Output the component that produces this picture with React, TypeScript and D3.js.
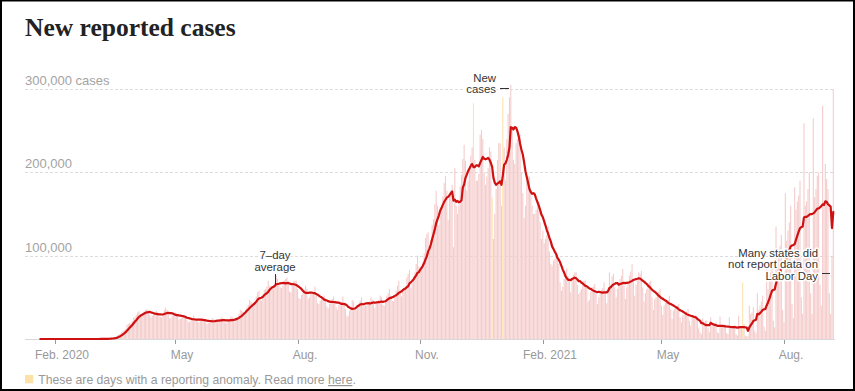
import React from 'react';
import * as d3 from 'd3';

// Daily reported cases, in thousands, one row per week (Mon..Sun); first row starts Tue 2020-01-21
const startDate = '2020-01-21';
const dailyCases: number[] = [
  0, 0, 0, 0, 0, 0,
  0, 0, 0, 0, 0, 0, 0,
  0, 0, 0, 0, 0, 0, 0,
  0, 0, 0, 0, 0, 0, 0,
  0, 0, 0, 0, 0, 0, 0,
  0, 0, 0.01, 0.01, 0.01, 0.01, 0.02,
  0.02, 0.03, 0.03, 0.06, 0.1, 0.1, 0.12,
  0.2, 0.3, 0.4, 0.5, 0.7, 0.9, 1.1,
  1.5, 1.9, 2.7, 4.5, 5.6, 6.5, 8.0,
  9.9, 10.6, 12.0, 17.0, 18.2, 19.4, 18.8,
  21.3, 25.3, 26.5, 29.0, 32.0, 33.3, 26.0,
  30, 31, 33, 35, 36, 34, 29,
  26, 28, 29, 31, 34, 32, 27,
  27, 26, 29, 35, 38, 35, 30,
  25, 25, 28, 30, 32, 31, 29,
  23, 24, 25, 28, 29, 27, 23,
  20, 21, 22, 25, 28, 25, 22,
  21, 20, 22, 24, 26, 24, 20,
  18, 19, 20, 23, 25, 24, 21,
  20, 21, 21, 24, 26, 25, 21,
  19, 20, 22, 24, 27, 26, 23,
  21, 24, 26, 30, 35, 34, 33,
  32, 35, 38, 41, 47, 45, 43,
  42, 45, 51, 56, 58, 49, 46,
  50, 59, 60, 63, 70, 64, 58,
  60, 64, 68, 76, 72, 66, 62,
  61, 64, 70, 72, 74, 68, 57,
  56, 64, 69, 70, 70, 60, 49,
  48, 53, 55, 59, 64, 60, 48,
  50, 54, 54, 56, 63, 52, 43,
  42, 46, 48, 48, 52, 48, 39,
  37, 42, 46, 48, 51, 46, 38,
  35, 41, 40, 44, 51, 44, 36,
  27, 28, 34, 37, 47, 45, 38,
  35, 39, 40, 46, 50, 44, 39,
  41, 40, 41, 45, 50, 47, 44,
  37, 43, 42, 47, 52, 50, 41,
  40, 45, 52, 55, 60, 52, 46,
  45, 52, 58, 64, 70, 59, 51,
  57, 61, 63, 74, 78, 83, 61,
  67, 75, 80, 90, 100, 87, 82,
  84, 92, 103, 121, 126, 128, 105,
  119, 137, 144, 162, 178, 160, 137,
  158, 161, 171, 187, 196, 178, 143,
  172, 178, 185, 110, 205, 160, 150,
  160, 183, 197, 216, 233, 214, 178,
  190, 205, 220, 230, 283, 215, 190,
  190, 198, 245, 251, 240, 200, 185,
  195, 205, 230, 225, 170, 120, 150,
  180, 215, 235, 235, 160, 290, 230,
  190, 240, 270, 290, 305, 250, 215,
  210, 235, 240, 245, 245, 200, 175,
  145, 160, 190, 195, 195, 175, 160,
  150, 150, 155, 165, 165, 140, 120,
  130, 115, 120, 125, 135, 105, 90,
  88, 94, 96, 106, 102, 90, 68,
  58, 63, 72, 75, 85, 75, 69,
  56, 73, 77, 80, 80, 65, 54,
  57, 60, 70, 70, 70, 62, 45,
  47, 57, 62, 63, 66, 57, 42,
  50, 54, 59, 61, 68, 57, 43,
  60, 80, 65, 75, 78, 62, 50,
  60, 66, 72, 76, 84, 64, 48,
  62, 67, 76, 81, 90, 72, 52,
  65, 70, 80, 78, 82, 62, 45,
  55, 60, 66, 68, 70, 50, 35,
  48, 50, 54, 57, 60, 40, 29,
  40, 44, 46, 47, 52, 35, 24,
  34, 36, 39, 40, 42, 26, 20,
  28, 29, 31, 33, 36, 22, 16,
  25, 25, 28, 28, 25, 13, 8,
  6, 25, 20, 22, 22, 13, 8,
  26, 16, 16, 17, 20, 8, 7,
  27, 16, 15, 15, 18, 7, 6,
  26, 14, 14, 15, 17, 6, 4,
  28, 15, 15, 68, 18, 4, 3,
  4, 40, 30, 32, 38, 10, 7,
  55, 35, 40, 45, 52, 15, 10,
  85, 60, 70, 80, 85, 22, 14,
  135, 88, 100, 112, 125, 35, 20,
  175, 118, 130, 140, 160, 42, 25,
  182, 155, 165, 172, 190, 50, 30,
  259, 160, 165, 180, 200, 55, 30,
  265, 170, 180, 196, 200, 65, 40,
  280, 165, 210, 192, 180, 55, 30,
  100, 300,
];

const anomalyDates = ['2020-12-11', '2020-12-25', '2021-01-02', '2021-07-01'];

const yTickValues = [100000, 200000, 300000];
const yTickLabels = ['100,000', '200,000', '300,000 cases'];

const xTickDates = ['2020-02-01', '2020-05-01', '2020-08-01', '2020-11-01', '2021-02-01', '2021-05-01', '2021-08-01'];
const xTickLabels = ['Feb. 2020', 'May', 'Aug.', 'Nov.', 'Feb. 2021', 'May', 'Aug.'];

const SANS = '"Liberation Sans", Arial, sans-serif';
const SERIF = '"Liberation Serif", "Times New Roman", serif';

export default function App() {
  const W = 855;
  const H = 391;
  const parse = d3.utcParse('%Y-%m-%d');
  const fmt = d3.utcFormat('%Y-%m-%d');
  const start = parse(startDate) as Date;
  const anomalySet = new Set(anomalyDates);

  const data = dailyCases.map((v, i) => {
    const date = d3.utcDay.offset(start, i);
    return { date, value: v * 1000, anomaly: anomalySet.has(fmt(date)) };
  });

  const avg = data.map((d, i) => {
    const win = data.slice(Math.max(0, i - 6), i + 1).filter((e) => !e.anomaly);
    return { date: d.date, value: d3.mean(win, (e) => e.value) ?? 0 };
  });

  const x = d3
    .scaleUtc()
    .domain([parse('2020-02-01') as Date, parse('2021-08-01') as Date])
    .range([55, 784]);
  const y = d3.scaleLinear().domain([0, 300000]).range([339, 89]);

  const bw = 1.1;
  const line = d3
    .line<{ date: Date; value: number }>()
    .x((d) => x(d.date))
    .y((d) => y(d.value))
    .curve(d3.curveLinear);

  const gridX1 = 25;
  const gridX2 = 835;

  return (
    <svg
      width={W}
      height={H}
      viewBox={`0 0 ${W} ${H}`}
      style={{ position: 'absolute', left: 0, top: 0, display: 'block', background: '#fff' }}
    >
      <rect x={0} y={0} width={W} height={H} fill="#fff" />
      {/* title */}
      <text x={25} y={36} fontFamily={SERIF} fontWeight="bold" fontSize={25.5} fill="#222">
        New reported cases
      </text>

      {/* gridlines */}
      <line x1={gridX1} x2={gridX2} y1={y(0) + 0.5} y2={y(0) + 0.5} stroke="#d8d8d8" strokeWidth={1} />
      {yTickValues.map((v, i) => (
        <g key={v}>
          <line
            x1={gridX1}
            x2={gridX2}
            y1={Math.round(y(v)) + 0.5}
            y2={Math.round(y(v)) + 0.5}
            stroke="#dcdcdc"
            strokeWidth={1}
            strokeDasharray="3,2"
          />
          <text x={25} y={y(v) - 4} fontFamily={SANS} fontSize={13} fill="#a3a3a3">
            {yTickLabels[i]}
          </text>
        </g>
      ))}

      {/* bars */}
      {data.map((d, i) =>
        d.value > 0 ? (
          <rect
            key={i}
            x={x(d.date) - bw / 2}
            y={y(d.value)}
            width={bw}
            height={y(0) - y(d.value)}
            fill={d.anomaly ? '#fde3ae' : '#f5cccc'}
          />
        ) : null
      )}

      {/* 7-day average */}
      <path d={line(avg) || ''} fill="none" stroke="#cf1111" strokeWidth={2.2} strokeLinejoin="round" strokeLinecap="round" />

      {/* x axis */}
      {xTickDates.map((s, i) => {
        const tx = Math.round(x(parse(s) as Date)) + 0.5;
        return (
          <g key={s}>
            <line x1={tx} x2={tx} y1={340} y2={344} stroke="#999" strokeWidth={1} />
            <text x={tx + 6.5} y={359} textAnchor="middle" fontFamily={SANS} fontSize={12} fill="#999">
              {xTickLabels[i]}
            </text>
          </g>
        );
      })}

      {/* annotations */}
      <g fontFamily={SANS} fontSize={11.4} fill="#333" stroke="#fff" strokeWidth={3} style={{ paintOrder: 'stroke' }} strokeLinejoin="round">
        <text x={496} y={81.7} textAnchor="end">New</text>
        <text x={496} y={93.3} textAnchor="end">cases</text>
        <text x={275} y={258.7} textAnchor="middle">7–day</text>
        <text x={275} y={270.7} textAnchor="middle">average</text>
        <text x={818} y={256.7} textAnchor="end">Many states did</text>
        <text x={818} y={268.3} textAnchor="end">not report data on</text>
        <text x={818} y={280} textAnchor="end">Labor Day</text>
      </g>
      <line x1={500} x2={509} y1={88.5} y2={88.5} stroke="#333" strokeWidth={1} />
      <line x1={275.5} x2={275.5} y1={274} y2={285} stroke="#333" strokeWidth={1} />
      <line x1={822} x2={830} y1={273.5} y2={273.5} stroke="#333" strokeWidth={1} />

      {/* footer */}
      <rect x={25} y={375} width={8.3} height={8.3} fill="#fde2a8" />
      <text x={38.3} y={384} fontFamily={SANS} fontSize={12.2} fill="#999">
        These are days with a reporting anomaly. Read more{' '}
        <tspan textDecoration="underline" style={{ textDecoration: 'underline' }}>here</tspan>.
      </text>

      {/* frame */}
      <rect x={0} y={0} width={2} height={H} fill="#000" />
      <rect x={W - 2} y={0} width={2} height={H} fill="#000" />
      <rect x={0} y={0} width={W} height={1.5} fill="#000" />
      <rect x={0} y={H - 2} width={W} height={2} fill="#000" />
    </svg>
  );
}
